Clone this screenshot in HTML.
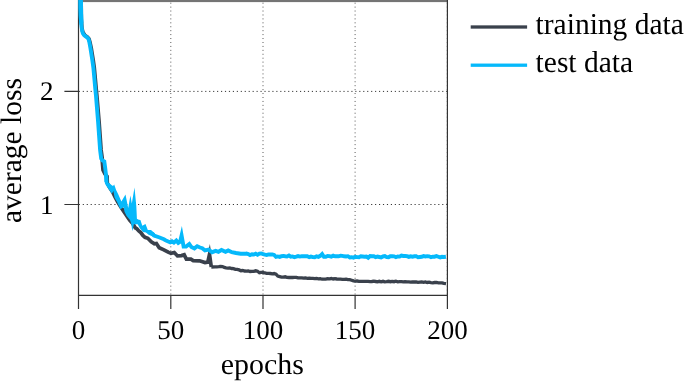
<!DOCTYPE html>
<html><head><meta charset="utf-8"><title>loss</title>
<style>
html,body{margin:0;padding:0;background:#fff;}
body{width:685px;height:381px;overflow:hidden;}
svg{display:block;text-rendering:geometricPrecision;font-family:"Liberation Serif","Times New Roman",serif;fill:#000;}
.g{stroke:#2a2a2a;stroke-width:0.95;stroke-dasharray:1.15 2.8;fill:none;}
.gv{stroke:#505050;stroke-width:1;stroke-dasharray:0.95 2.98;fill:none;}
.ax{stroke:#333;stroke-width:1.2;fill:none;}
.tk{font-size:27px;}
.lb{font-size:29.5px;}
.cv{fill:none;stroke-linejoin:miter;stroke-miterlimit:12;}
</style></head><body>
<svg width="685" height="381" viewBox="0 0 685 381">
<defs><clipPath id="c"><rect x="77.6" y="0" width="369.8" height="295"/></clipPath></defs>
<rect width="685" height="381" fill="#fff"/>
<!-- grid -->
<path class="gv" d="M170.8,2.7V295M263,2.7V295M355.1,2.7V295M447.3,2.7V295"/>
<path class="g" d="M78.8,91.4H447M78.8,204.5H447"/>
<!-- frame -->
<rect x="82.5" y="0" width="365.4" height="2.1" fill="#747474"/>
<path class="ax" d="M78.5,0V309M64.4,91.4H78.5M64.4,204.5H78.5M78.5,295.3H447.9M170.8,295V309M263,295V309M355.1,295V309M447.4,0V309"/>
<!-- curves -->
<g clip-path="url(#c)">
<polyline class="cv" points="211.3,267.0 215.0,266.8 216.9,266.8 218.8,266.6 220.6,266.3 222.5,266.5 224.3,267.4 226.1,267.8 228.0,268.1 229.8,268.0 231.7,268.5 233.5,268.7 235.4,269.4 237.2,269.4 239.1,269.9 240.9,270.7 242.7,270.5 244.6,271.0 246.4,271.1 248.3,271.0 250.1,271.5 252.0,271.4 253.8,271.3 255.7,270.8 257.5,271.2 259.4,272.7 261.2,272.3 263.0,272.4 264.9,273.0 266.7,273.3 268.6,273.4 270.4,273.5 272.3,273.8 274.1,273.5 276.0,274.2 277.8,276.1 279.7,276.6 281.5,277.1 283.3,277.2 285.2,276.8 287.0,277.3 288.9,277.5 290.7,277.3 292.6,277.5 294.4,277.3 296.3,277.3 298.1,277.8 299.9,277.8 301.8,277.9 303.6,278.2 305.5,277.9 307.3,278.3 309.2,278.1 311.0,278.4 312.9,278.3 314.7,278.6 316.6,278.4 318.4,278.8 320.2,278.6 322.1,279.2 323.9,279.1 325.8,279.2 327.6,278.7 329.5,278.8 331.3,278.5 333.2,279.0 335.0,278.7 336.8,279.0 338.7,279.1 340.5,279.1 342.4,279.3 344.2,279.4 346.1,279.2 347.9,279.6 349.8,279.6 351.6,280.2 353.5,280.9 355.3,281.2 357.1,281.0 359.0,281.3 360.8,281.3 362.7,281.4 364.5,281.3 366.4,281.4 368.2,281.4 370.1,281.7 371.9,281.5 373.7,281.2 375.6,281.5 377.4,281.8 379.3,281.3 381.1,281.8 383.0,281.3 384.8,281.8 386.7,281.7 388.5,281.3 390.4,281.7 392.2,281.4 394.0,281.7 395.9,281.2 397.7,281.8 399.6,281.6 401.4,281.7 403.3,281.9 405.1,281.6 407.0,281.8 408.8,281.8 410.6,282.1 412.5,281.8 414.3,282.0 416.2,282.0 418.0,282.4 419.9,282.1 421.7,281.9 423.6,282.4 425.4,282.0 427.3,282.5 429.1,282.2 430.9,282.6 432.8,282.8 434.6,282.5 436.5,282.5 438.3,282.9 440.2,282.8 442.0,282.9 443.9,283.4 446.0,283.6" stroke="#3a414c" stroke-width="3.3"/>
<polyline class="cv" points="81.1,-5.0 81.3,19.0 81.9,28.0 82.8,32.0 84.8,35.2 87.5,37.1 89.0,38.8 89.9,42.0 91.2,47.9 93.2,60.0 94.3,68.0 96.3,90.0 96.9,96.0 99.1,122.0 101.1,150.0 102.2,158.0 102.4,163.0 103.0,170.0 105.0,174.0 107.1,176.5 107.3,183.0 109.5,187.2 112.6,192.0 115.0,197.0 117.5,201.5 119.6,205.0 121.8,208.5 123.6,211.1 126.0,214.6 128.0,217.6 130.0,220.5 132.5,223.2 134.2,226.0 135.3,227.8 136.8,228.7 138.8,231.0 140.7,232.4 142.7,235.2 145.0,237.3 147.8,238.3 151.3,241.8 154.4,243.8 156.4,243.5 159.2,247.7 163.9,249.8 168.2,252.2 171.0,253.4 174.3,252.5 177.5,255.9 181.4,255.6 184.2,254.8 186.4,259.2 190.9,259.2 193.2,260.6 199.6,260.8 205.0,262.6 207.8,262.2 209.5,254.4 211.3,267.0" stroke="#3a414c" stroke-width="3.7"/>
<polyline class="cv" points="81.1,14.0 81.3,22.0 81.6,27.0 82.2,31.0 82.9,33.4 84.3,35.4 87.0,37.3 88.5,39.0 89.3,42.0 90.4,47.9 92.3,60.0 93.4,68.0 95.4,90.0 96.0,96.0 98.1,122.0 100.1,150.0 101.2,158.5 102.5,160.5 104.3,161.5 105.2,168.0 106.0,175.0 106.4,182.0" stroke="#05b9fb" stroke-width="3.9"/>
<polygon points="104.4,176.0 108.2,176.0 108.2,182.3 111.8,185.2 113.0,186.1 114.2,184.5 116.1,190.0 118.1,193.9 121.4,201.6 125.5,194.4 128.2,208.0 130.4,195.5 131.8,203.6 134.5,187.6 136.3,206.0 136.6,212.0 136.9,218.7 138.8,219.8 140.4,219.9 142.3,225.7 145.5,223.9 147.8,230.1 151.0,229.9 155.0,233.6 155.0,237.4 148.6,234.8 145.9,232.4 143.1,232.0 140.0,228.5 137.6,224.2 134.4,224.2 133.9,224.2 132.3,231.2 131.3,224.1 130.0,219.9 126.6,216.0 124.5,211.8 123.7,207.3 120.3,209.3 116.9,201.8 114.6,197.8 113.4,191.1 111.8,193.7 105.9,185.2 104.8,182.9" fill="#05b9fb"/>
<polygon points="78.2,-1 82.95,-1 83.1,14 83.4,23 79.8,25 79.1,22 78.6,16 78.3,8" fill="#05b9fb"/>
<polyline class="cv" points="152.0,233.2 154.1,235.5 159.6,237.5 163.9,239.3 165.5,240.2 170.2,242.4 172.0,241.3 173.9,242.6 176.3,240.5 178.3,242.9 180.1,241.8 181.6,235.5 183.6,246.6 186.1,246.6 189.3,244.0 191.4,247.0 194.4,248.4 197.2,246.3 200.0,247.5 202.3,248.2 205.0,250.4 208.6,249.6 212.1,252.2 215.7,250.9 218.4,251.8 221.5,250.0 225.5,251.8 228.2,250.4 231.8,252.2 236.0,253.0 240.7,253.7 246.1,253.7 246.5,253.6 248.3,254.0 250.1,255.1 252.0,254.3 253.8,254.5 255.7,253.7 257.5,254.8 259.4,253.6 261.2,253.4 263.1,254.1 264.9,254.7 266.7,254.9 268.6,254.4 270.4,254.5 272.3,254.4 274.1,254.9 276.0,256.9 277.8,256.4 279.7,256.9 281.5,256.2 283.4,255.9 285.2,256.2 287.0,256.4 288.9,255.5 290.7,256.7 292.6,256.4 294.4,257.2 296.3,256.7 298.1,256.1 300.0,256.6 301.8,256.2 303.6,256.1 305.5,256.3 307.3,256.3 309.2,257.2 311.0,256.6 312.9,257.1 314.7,257.3 316.6,256.3 318.4,256.8 320.3,255.8 322.1,254.1 323.9,256.8 325.8,256.7 327.6,256.0 329.5,256.1 331.3,256.7 333.2,255.7 335.0,256.3 336.9,256.1 338.7,256.3 340.6,255.7 342.4,255.9 344.2,256.3 346.1,256.5 347.9,256.2 349.8,257.4 351.6,257.2 353.5,257.6 355.3,256.8 357.2,257.1 359.0,257.2 360.8,256.3 362.7,256.5 364.5,256.7 366.4,256.6 368.2,257.8 370.1,256.1 371.9,256.3 373.8,256.3 375.6,257.1 377.5,256.6 379.3,257.0 381.1,257.4 383.0,256.4 384.8,256.1 386.7,257.2 388.5,257.3 390.4,256.2 392.2,256.1 394.1,256.3 395.9,257.2 397.7,256.5 399.6,256.6 401.4,255.5 403.3,256.0 405.1,256.0 407.0,256.1 408.8,256.9 410.7,256.3 412.5,256.7 414.4,256.3 416.2,256.2 418.0,257.3 419.9,257.0 421.7,256.8 423.6,256.1 425.4,256.4 427.3,256.1 429.1,256.3 431.0,257.2 432.8,256.6 434.6,256.7 436.5,256.0 438.3,256.7 440.2,257.4 442.0,256.8 443.9,257.0 445.9,256.8" stroke="#05b9fb" stroke-width="3.9"/>
</g>
<!-- ticks -->
<g class="tk" text-anchor="middle">
<text x="78.4" y="338.7">0</text><text x="170.8" y="338.7">50</text><text x="263" y="338.7">100</text><text x="355.1" y="338.7">150</text><text x="447.4" y="338.7">200</text>
</g>
<g class="tk" text-anchor="end"><text x="53.4" y="100.3">2</text><text x="53.4" y="213.9">1</text></g>
<text transform="translate(262.3,374.1) scale(1,1.0)" text-anchor="middle" font-size="29.9">epochs</text>
<text class="lb" transform="translate(21.1,150.5) rotate(-90) scale(1,1.0)" text-anchor="middle">average loss</text>
<!-- legend -->
<rect x="470.7" y="25.35" width="56.4" height="3.3" fill="#3a414c"/>
<rect x="470.7" y="63.55" width="56.4" height="3.3" fill="#05b9fb"/>
<text class="lb" transform="translate(535.6,33.9) scale(1,1.03)">training data</text>
<text class="lb" transform="translate(535.6,72.1) scale(1,1.03)">test data</text>
</svg>
</body></html>
